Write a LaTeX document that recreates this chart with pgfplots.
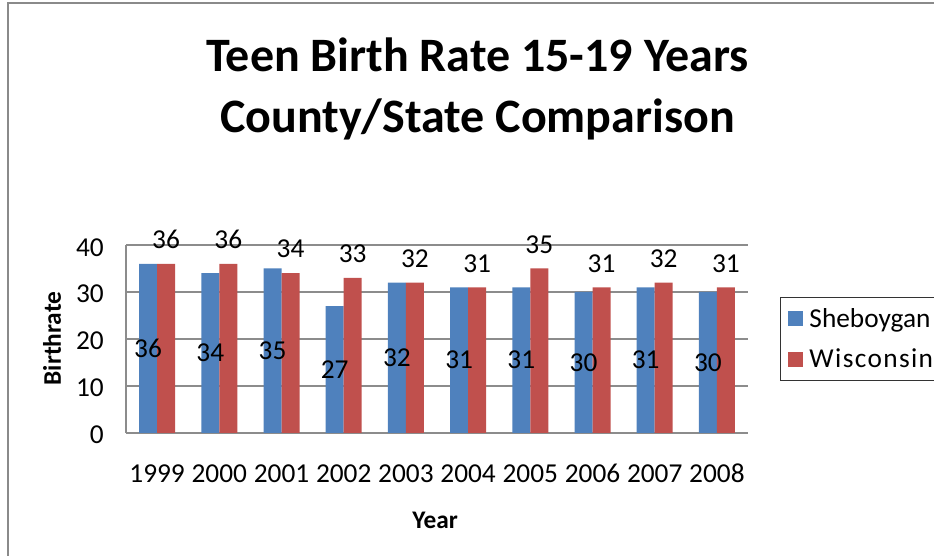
\documentclass[border=0pt]{standalone}
\usepackage{fontspec}
\setmainfont{Carlito}
\usepackage{pgfplots}
\pgfplotsset{compat=1.18}
\definecolor{xlblue}{HTML}{4F81BD}
\definecolor{xlred}{HTML}{C0504D}
\definecolor{xlgrid}{HTML}{8C8C8C}
\definecolor{xlframe}{HTML}{8A8A8A}

\pgfplotstableread{
idx year sheboygan wisconsin
0 1999 36 36
1 2000 34 36
2 2001 35 34
3 2002 27 33
4 2003 32 32
5 2004 31 31
6 2005 31 35
7 2006 30 31
8 2007 31 32
9 2008 30 31
}\birthdata

\newcommand\lbl{\fontsize{20.5}{24}\selectfont}

\begin{document}
\begin{tikzpicture}
  % page = 934 x 556 px at 0.75pt per px
  \useasboundingbox (0,0) rectangle (700.5pt,417pt);
  \clip (0,0) rectangle (700.5pt,417pt);
  \draw[xlframe,line width=0.9pt] (6pt,-2pt) -- (6pt,414.75pt) -- (705pt,414.75pt);

  \begin{axis}[
      at={(94.5pt,92.25pt)}, anchor=south west,
      scale only axis, width=466.5pt, height=141pt,
      ybar=0pt, bar width=13.5pt,
      xmin=-0.5, xmax=9.5, ymin=0, ymax=40,
      xtick=data,
      xticklabels={1999,2000,2001,2002,2003,2004,2005,2006,2007,2008},
      ytick={0,10,20,30,40},
      major tick length=0pt,
      axis x line*=bottom, axis y line*=left,
      axis line style={xlgrid, line width=0.8pt},
      ymajorgrids, grid style={xlgrid, line width=0.8pt},
      tick label style={font=\lbl, /pgf/number format/assume math mode=true},
      xticklabel style={anchor=base, yshift=-37.5pt},
      yticklabel style={anchor=base east, inner sep=0pt, xshift=-16.5pt, yshift=-8.25pt},
      title={Teen Birth Rate 15-19 Years\\County/State Comparison},
      title style={font=\bfseries\fontsize{36}{45.75}\selectfont, align=center,
                   at={(0.565,1.787)}, anchor=center},
      xlabel={Year}, ylabel={Birthrate},
      label style={font=\bfseries\fontsize{19}{23}\selectfont},
      xlabel style={at={(0.497,-0.463)}, anchor=center},
      ylabel style={at={(-0.119,0.503)}, anchor=center, rotate=0},
      legend style={at={(1.051,0.723)}, anchor=north west, draw=black!80,
                    line width=0.6pt, font=\lbl, inner xsep=6pt, inner ysep=6pt,
                    row sep=11pt, cells={anchor=west}},
      legend image code/.code={\fill[#1] (0pt,-5.6pt) rectangle (11.25pt,5.6pt);
                               \path (14pt,0pt);},
      nodes near coords,
      every node near coord/.append style={font=\lbl, text=black,
                    /pgf/number format/assume math mode=true},
      visualization depends on={rawy \as \rawy},
    ]
    \addplot[draw=none, fill=xlblue,
             every node near coord/.append style={anchor=center, yshift={-1.7625pt*\rawy}}]
      table[x=idx, y=sheboygan] {\birthdata};
    \addplot[draw=none, fill=xlred,
             every node near coord/.append style={anchor=center, yshift=18pt}]
      table[x=idx, y=wisconsin] {\birthdata};
    \legend{Sheboygan, {\addfontfeature{LetterSpace=5}Wisconsin}}
  \end{axis}
\end{tikzpicture}
\end{document}
